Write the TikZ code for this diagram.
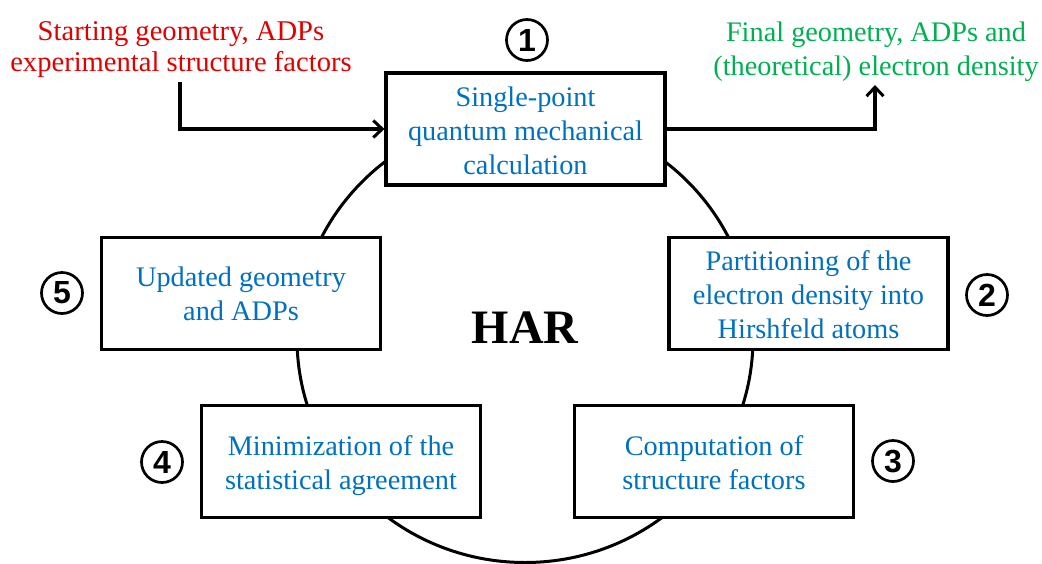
\documentclass[tikz,border=0pt]{standalone}
\usepackage{fontspec}
\setmainfont{Liberation Serif}
\setsansfont{Liberation Sans}
\usetikzlibrary{arrows.meta}
\definecolor{txtblue}{HTML}{0070C0}
\definecolor{txtred}{HTML}{E00000}
\definecolor{txtgreen}{HTML}{00B050}
\tikzset{
  stepbox/.style={draw=black, line width=3.1pt, fill=white, minimum width=279pt, minimum height=112pt, inner sep=0pt},
  boxtext/.style={align=center, text=txtblue, inner sep=0pt, font=\fontsize{28.3}{34}\selectfont,
    execute at begin node=\strut, execute at end node=\strut},
  num/.style={circle, draw=black, line width=2.7pt, minimum size=41pt, inner sep=0pt,
    font=\sffamily\bfseries\fontsize{32}{32}\selectfont},
  note/.style={align=center, inner sep=0pt, execute at begin node=\strut, execute at end node=\strut},
  arr/.style={line width=3.1pt, -{Straight Barb[length=9pt,width=17pt,line width=3pt]}},
}
\begin{document}
\begin{tikzpicture}[x=1pt,y=-1pt]
\useasboundingbox (0,0) rectangle (1042,563);
\draw[line width=3pt] (525,338.5) ellipse [x radius=228, y radius=224];
\node[stepbox] (b1) at (525.5,129) {};
\node[stepbox] (b2) at (808.5,293.5) {};
\node[stepbox] (b3) at (714,461.5) {};
\node[stepbox] (b4) at (341,461.5) {};
\node[stepbox] (b5) at (241,293.5) {};
\node[boxtext] (t1) at ([yshift=-6.8pt]b1.center) {Single-point\\quantum mechanical\\calculation};
\node[boxtext] (t2) at ([yshift=-6.3pt]b2.center) {Partitioning of the\\electron density into\\Hirshfeld atoms};
\node[boxtext] (t3) at ([yshift=-6.2pt]b3.center) {Computation of\\structure factors};
\node[boxtext] (t4) at ([yshift=-6.2pt]b4.center) {Minimization of the\\statistical agreement};
\node[boxtext] (t5) at ([yshift=-5.5pt]b5.center) {Updated geometry\\and ADPs};
\node[font=\bfseries\fontsize{48}{48}\selectfont] (har) at (525,328) {HAR};
\node[num] (n1) at (527,40) {1};
\node[num] (n2) at (987,295) {2};
\node[num] (n3) at (893,461) {3};
\node[num] (n4) at (162,462) {4};
\node[num] (n5) at (62,293) {5};
\node[note, text=txtred, font=\fontsize{28.6}{31}\selectfont] (start) at (181,50.8) {Starting geometry, ADPs\\experimental structure factors};
\node[note, text=txtgreen, font=\fontsize{28.3}{34}\selectfont] (final) at (876,54.2) {Final geometry, ADPs and\\(theoretical) electron density};
\coordinate (a1) at (180,82);
\coordinate (a2) at (875,85);
\draw[arr] (a1) |- (b1.west);
\draw[arr] (b1.east) -| (a2);
\end{tikzpicture}
\end{document}
